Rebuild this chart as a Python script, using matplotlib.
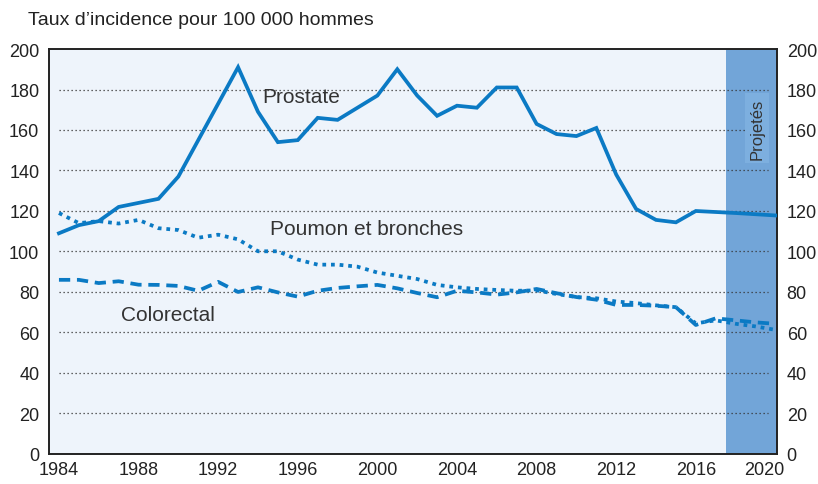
import matplotlib
matplotlib.use("Agg")
import matplotlib.pyplot as plt
import matplotlib.transforms as mtransforms

years = list(range(1984, 2021))

prostate = [109, 113, 115, 122, 124, 126, 137, 155, 173, 191,
            169, 154, 155, 166, 165, 171, 177, 190, 177, 167,
            172, 171, 181, 181, 163, 158, 157, 161, 138, 121,
            115.6, 114.4, 120, 119.5, 119, 118.4, 117.8]

poumon = [119, 114, 115, 113.8, 115.6, 111.5, 110.6, 106.8, 108.3, 106,
          100.1, 100.1, 96, 93.5, 93.5, 92.5, 89.6, 88, 86.4, 83.5,
          82.3, 81.5, 81, 80.6, 80.8, 79, 77.5, 76.9, 75.3, 74.5,
          73.4, 72.5, 64.5, 66, 64.3, 63, 61.3]

colorectal = [86, 86, 84.4, 85.3, 83.6, 83.5, 83, 80.6, 85, 80,
              82.3, 79.8, 77.7, 80.6, 82, 82.8, 83.5, 81.8, 79.5, 77.4,
              80.6, 79.8, 78.7, 79.8, 81.5, 79.4, 77.5, 76.2, 73.6, 73.6,
              73.2, 72.5, 63.7, 67, 66, 65, 64.3]

y_ticks = [0, 20, 40, 60, 80, 100, 120, 140, 160, 180, 200]
grid_levels = [20, 40, 60, 80, 100, 120, 140, 160, 180]
x_ticks = [1984, 1988, 1992, 1996, 2000, 2004, 2008, 2012, 2016, 2020]
projection_start = 2017.52

line_color = "#0b7ac4"
text_color = "#333333"
font = "Liberation Sans"

fig = plt.figure(figsize=(8.18, 4.85), dpi=100)
ax = fig.add_axes([0.0599, 0.0619, 0.8900, 0.8350])
ax.set_facecolor("#eef4fb")

ax.axvspan(projection_start, 2020.08, color="#72a5d8", zorder=1, lw=0)
ax.hlines(grid_levels, 1984, 2019.65, colors="#333333", linestyles=(0, (1, 2.2)),
          linewidth=0.9, zorder=2)

ax.plot(years, prostate, color=line_color, lw=2.7, zorder=4, solid_joinstyle="miter")
ax.plot(years, poumon, color=line_color, lw=2.7, linestyle=(0, (1, 1.3)), zorder=4)
ax.plot(years, colorectal, color=line_color, lw=2.7, linestyle=(0, (3, 1.8)), zorder=4)

ax.text(1994.2, 176.5, "Prostate", fontsize=15, color=text_color, va="center", family=font)
ax.text(1994.6, 111.5, "Poumon et bronches", fontsize=15, color=text_color, va="center",
        family=font)
ax.text(1987.1, 69, "Colorectal", fontsize=15, color=text_color, va="center", family=font)
ax.text(2019.07, 161, "Projetés", rotation=90, fontsize=12, color=text_color,
        ha="center", va="center", family=font, zorder=5,
        bbox=dict(facecolor="#7dafdf", edgecolor="none", pad=3))

ax.set_xlim(1983.5, 2020.08)
ax.set_ylim(0, 200)
ax.set_xticks(x_ticks)
ax.set_yticks(y_ticks)
ax.tick_params(axis="both", length=0, labelsize=13, colors="#222222")
ax.tick_params(axis="y", pad=7, labelright=True)
ax.tick_params(axis="x", pad=5)
for label in ax.get_xticklabels() + ax.get_yticklabels():
    label.set_family(font)

# the last year label sits a little left of its tick, as in the source
last = ax.get_xticklabels()[-1]
last.set_transform(last.get_transform() + mtransforms.ScaledTranslation(-8 / 72, 0, fig.dpi_scale_trans))

for spine in ax.spines.values():
    spine.set_color("#222222")
    spine.set_linewidth(1.4)

fig.text(0.034, 0.958, "Taux d\u2019incidence pour 100\u00a0000 hommes", fontsize=14,
         color="#222222", va="center", family=font)

fig.savefig("out.png", dpi=100)
